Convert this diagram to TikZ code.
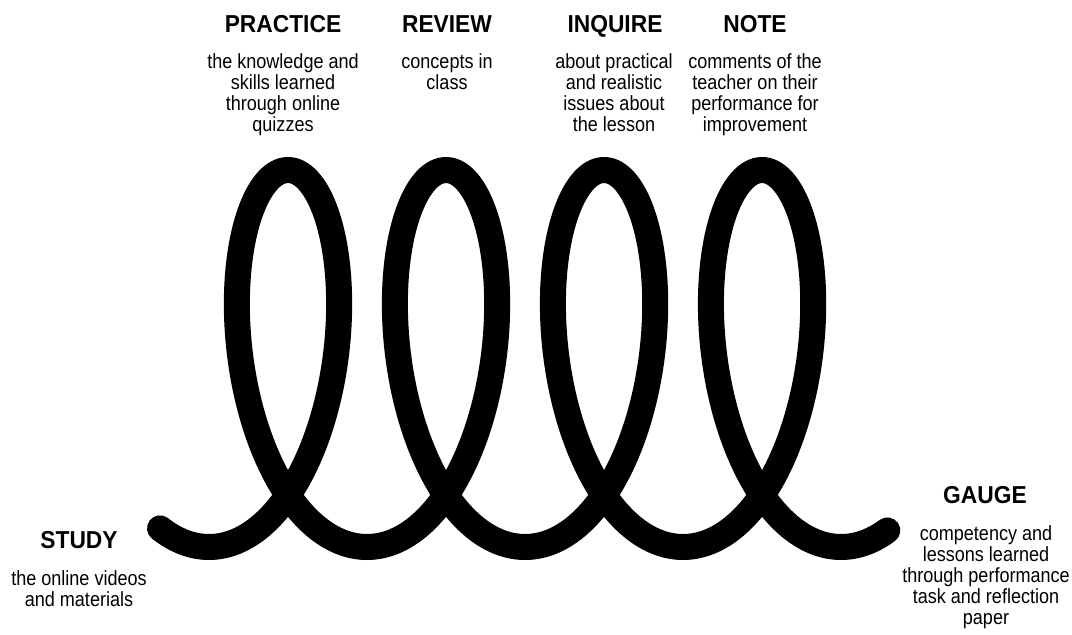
\documentclass[tikz,border=0pt]{standalone}
\usepackage{fontspec}
\setmainfont{Liberation Sans}
\newfontfamily\bodyfont{Liberation Sans}[FakeStretch=0.88]
\newfontfamily\headfont{Liberation Sans Bold}[FakeStretch=0.93]
\begin{document}
\begin{tikzpicture}[x=1pt,y=-1pt,
  head/.style={anchor=north,inner sep=0pt,font=\headfont\fontsize{24.5}{26}\selectfont},
  body/.style={anchor=north,inner sep=0pt,align=center,font=\bodyfont\fontsize{20.5}{21.2}\selectfont},
  coil/.style={line width=26pt,line cap=round,black}]
\useasboundingbox (0,0) rectangle (1072,635);
% spiral
\draw[coil] plot[domain=-3.59:22.42,samples=600,smooth]
  ({288+25.15*\x-87*sin(\x r)},{358.5-188.5*cos(\x r)});
% top labels
\node[head] (practice) at (283,15) {PRACTICE};
\node[body] (practiceT) at (283,53) {the knowledge and\\skills learned\\through online\\quizzes};
\node[head] (review) at (447,15) {REVIEW};
\node[body] (reviewT) at (447,53) {concepts in\\class};
\node[head] (inquire) at (615,15) {INQUIRE};
\node[body] (inquireT) at (614,53) {about practical\\and realistic\\issues about\\the lesson};
\node[head] (note) at (755,15) {NOTE};
\node[body] (noteT) at (755,53) {comments of the\\teacher on their\\performance for\\improvement};
% bottom labels
\node[head] (study) at (79,531) {STUDY};
\node[body] (studyT) at (79,570) {the online videos\\and materials};
\node[head] (gauge) at (985,486) {GAUGE};
\node[body] (gaugeT) at (986,525) {competency and\\lessons learned\\through performance\\task and reflection\\paper};
\end{tikzpicture}
\end{document}
